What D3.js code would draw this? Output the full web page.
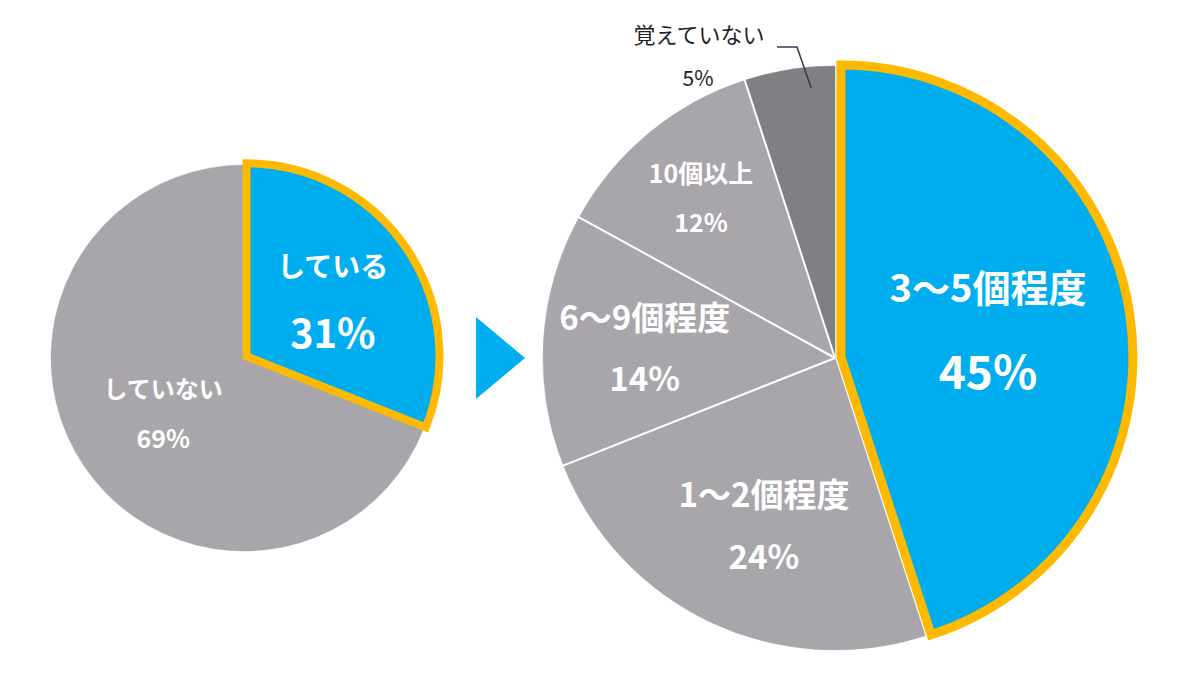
<!DOCTYPE html>
<html><head><meta charset="utf-8">
<script src="https://cdn.jsdelivr.net/npm/d3@7"></script>
<style>
html,body{margin:0;padding:0;background:#fff;}
svg{display:block;}
text{font-family:"Noto Sans CJK JP","Noto Sans",sans-serif;}
</style></head>
<body>
<svg id="chart" width="1200" height="694"></svg>
<script>
// ---- data ----
const leftCategories = ["している", "していない"];
const leftValues = [31, 69];
const rightCategories = ["3〜5個程度", "1〜2個程度", "6〜9個程度", "10個以上", "覚えていない"];
const rightValues = [45, 24, 14, 12, 5];

// ---- style ----
const BLUE = "#00AEEF", YELLOW = "#FFBA00", GRAY = "#A8A6AA", DARK = "#807F84";
const svg = d3.select("#chart");
const pie = d3.pie().sort(null).value(d => d.v);

function drawPie(cfg) {
  const data = cfg.cats.map((c, i) => ({ c, v: cfg.vals[i], i }));
  const arcs = pie(data);
  const g = svg.append("g").attr("transform", `translate(${cfg.cx},${cfg.cy})`);
  const arc = d3.arc().innerRadius(0).outerRadius(cfg.r);
  // non highlighted slices
  g.selectAll("path.s").data(arcs.filter(a => a.index !== 0)).join("path")
    .attr("class", "s").attr("d", arc)
    .attr("fill", a => cfg.fills[a.index])
    .attr("stroke", a => cfg.fills[a.index])
    .attr("stroke-width", 0.5);
  // white separators between grey slices only
  if (cfg.sep) {
    arcs.filter(a => a.index >= 2).forEach(a => {
      const t = a.startAngle;
      g.append("line").attr("x1", 0).attr("y1", 0)
        .attr("x2", Math.sin(t) * (cfg.r + 1)).attr("y2", -Math.cos(t) * (cfg.r + 1))
        .attr("stroke", "#fff").attr("stroke-width", 2);
    });
  }
  // highlighted slice
  const h = arcs[0];
  const mid = (h.startAngle + h.endAngle) / 2;
  g.append("path").attr("d", arc(h))
    .attr("transform", `translate(${Math.sin(mid) * cfg.explode},${-Math.cos(mid) * cfg.explode})`)
    .attr("fill", BLUE).attr("stroke", YELLOW).attr("stroke-width", cfg.hw)
    .attr("stroke-linejoin", "miter");
  // labels
  arcs.forEach(a => {
    const lab = cfg.labels[a.index];
    if (!lab) return;
    const m = (a.startAngle + a.endAngle) / 2;
    const d = cfg.r * lab.k;
    const x = Math.sin(m) * d + (lab.dx || 0), y = -Math.cos(m) * d + (lab.dy || 0);
    g.append("text").attr("x", x).attr("y", y - lab.gap / 2)
      .attr("text-anchor", "middle").attr("dominant-baseline", "central")
      .attr("fill", lab.color || "#fff").attr("font-weight", lab.w || 700)
      .attr("font-size", lab.s1).text(a.data.c);
    g.append("text").attr("x", x).attr("y", y + lab.gap / 2)
      .attr("text-anchor", "middle").attr("dominant-baseline", "central")
      .attr("fill", lab.color || "#fff").attr("font-weight", lab.w || 700)
      .attr("font-size", lab.s2).text(a.data.v + "%");
  });
  return { g, arcs, arc };
}

drawPie({
  cats: leftCategories, vals: leftValues, cx: 244, cy: 358, r: 193,
  fills: [BLUE, GRAY], sep: false, explode: 3, hw: 8,
  labels: [
    { k: 0.55, gap: 66, s1: 28, s2: 40, dx: 1 },
    { k: 0.50, gap: 50, s1: 24, s2: 25, dx: -1 }
  ]
});

const right = drawPie({
  cats: rightCategories, vals: rightValues, cx: 835, cy: 358, r: 292,
  fills: [BLUE, GRAY, GRAY, GRAY, DARK], sep: true, explode: 6, hw: 9,
  labels: [
    { k: 0.52, gap: 83, s1: 38, s2: 46, dx: 3, dy: -7 },
    { k: 0.62, gap: 62, s1: 33, s2: 33, dx: 6, dy: 2 },
    { k: 0.66, gap: 61, s1: 33, s2: 33, dx: 2, dy: 1 },
    { k: 0.72, gap: 49, s1: 25, s2: 25 },
    null
  ]
});

// outside label for the small slice
const small = right.arcs[4];
const tIn = small.startAngle + 0.72 * (small.endAngle - small.startAngle);
const pIn = [Math.sin(tIn) * 292 * 0.928, -Math.cos(tIn) * 292 * 0.928];
const pElbow = [-38, -311];
const pEnd = [-58, -311];
right.g.append("polyline")
  .attr("points", [pIn, pElbow, pEnd].map(p => p.join(",")).join(" "))
  .attr("fill", "none").attr("stroke", "#2F4058").attr("stroke-width", 1.6);
right.g.append("text").attr("x", -136).attr("y", -325)
  .attr("text-anchor", "middle").attr("dominant-baseline", "central")
  .attr("fill", "#222").attr("font-size", 22).text(small.data.c);
right.g.append("text").attr("x", -137).attr("y", -281)
  .attr("text-anchor", "middle").attr("dominant-baseline", "central")
  .attr("fill", "#222").attr("font-size", 21).text(small.data.v + "%");

// arrow
svg.append("path").attr("d", d3.line()([[476, 317], [525, 358], [476, 399]]) + "Z")
  .attr("fill", BLUE);
</script>
</body></html>
